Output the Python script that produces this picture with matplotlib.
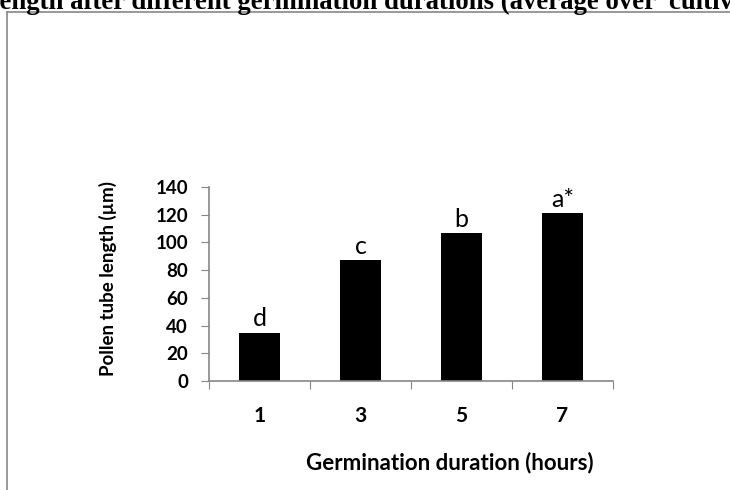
import matplotlib
matplotlib.use('Agg')
import matplotlib.pyplot as plt
from matplotlib.lines import Line2D
import numpy as np

# data
durations = ['1', '3', '5', '7']
lengths = [35, 87, 107, 121]
letters = ['d', 'c', 'b', 'a*']

plt.rcParams['font.family'] = ['Lato', 'DejaVu Sans']

fig = plt.figure(figsize=(7.3, 4.9), dpi=100)
ax = fig.add_axes([209/730, 1 - 381/490, (613 - 209)/730, (381 - 187)/490])

x = np.arange(len(durations))
bars = ax.bar(x, lengths, width=0.41, color='black')
for b, lab in zip(bars, letters):
    ax.text(b.get_x() + b.get_width()/2, b.get_height() + 1.5, lab,
            ha='center', va='bottom', fontsize=18)

ax.set_xlim(-0.5, 3.5)
ax.set_ylim(0, 140)
ax.set_yticks(np.arange(0, 141, 20))
ax.set_xticks(np.arange(-0.5, 3.6, 1))
ax.set_xticklabels([])
ax.set_xticks(x, minor=True)
ax.set_xticklabels(durations, minor=True, fontsize=15, fontweight='bold')
ax.tick_params(axis='x', which='minor', length=0, pad=18)
ax.tick_params(axis='x', which='major', length=6, color='#868686', direction='out')
ax.tick_params(axis='y', length=6, color='#868686', labelsize=13.5, pad=9)
for t in ax.get_yticklabels():
    t.set_fontweight('bold')
for s in ['top', 'right']:
    ax.spines[s].set_visible(False)
for s in ['left', 'bottom']:
    ax.spines[s].set_color('#868686')
    ax.spines[s].set_linewidth(1.2)

fig.text(108/730, 1 - 278/490, 'Pollen tube length (µm)', fontsize=13.5, fontweight='bold',
         rotation=90, ha='center', va='center')
fig.text(450/730, 1 - 463/490, 'Germination duration (hours)', fontsize=16, fontweight='bold',
         ha='center', va='center')

# clipped caption and frame from the source page
fig.text(-8/730, 1 - 9/490, 'length after different germination durations (average over  cultivars)',
         fontsize=19.3, fontweight='bold', family='Liberation Serif', va='baseline', ha='left')
fig.add_artist(Line2D([7/730, 7/730], [0, 1 - 12/490], color='#888888', lw=1.2))
fig.add_artist(Line2D([7/730, 1], [1 - 12/490, 1 - 12/490], color='#888888', lw=1.2))

fig.savefig('out.png', dpi=100)
